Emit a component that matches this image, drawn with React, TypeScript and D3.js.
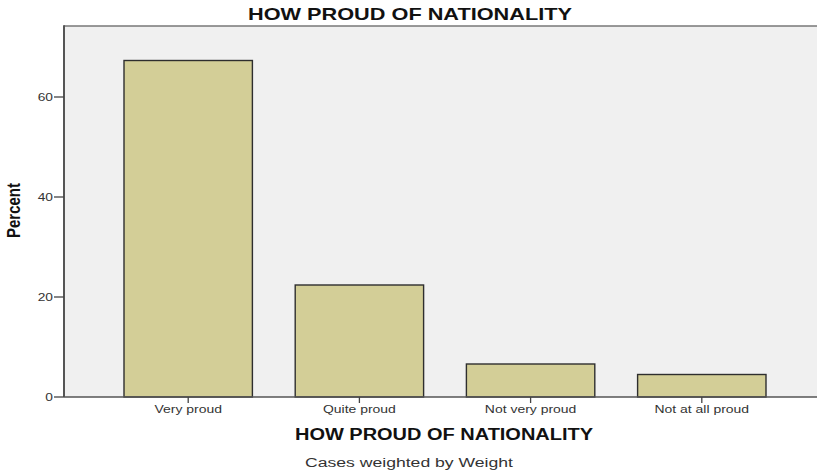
import React from "react";
import * as d3 from "d3";

const categories = ["Very proud", "Quite proud", "Not very proud", "Not at all proud"];
const percents = [67.3, 22.4, 6.6, 4.5];
const yTicks = [0, 20, 40, 60];
const title = "HOW PROUD OF NATIONALITY";
const xTitle = "HOW PROUD OF NATIONALITY";
const yTitle = "Percent";
const footnote = "Cases weighted by Weight";

const W = 817;
const H = 475;
const plot = { left: 64, right: 817, top: 26, bottom: 397 };
const FONT = "'Liberation Sans', Arial, sans-serif";

export default function App() {
  const y = d3.scaleLinear().domain([0, 74.2]).range([plot.bottom, plot.top]);
  const x = d3
    .scaleBand<string>()
    .domain(categories)
    .range([81.2, 808.8])
    .paddingInner(0.25)
    .paddingOuter(0.25);
  const bw = x.bandwidth();
  const tickColor = "#333";

  return (
    <svg
      width={W}
      height={H}
      style={{ position: "absolute", left: 0, top: 0, display: "block", background: "#fff" }}
    >
      <rect
        x={plot.left}
        y={plot.top}
        width={plot.right - plot.left}
        height={plot.bottom - plot.top}
        fill="#f0f0f0"
      />
      <line x1={plot.left} x2={plot.right} y1={plot.top} y2={plot.top} stroke="#777" strokeWidth={1.5} />
      {categories.map((c, i) => (
        <rect
          key={c}
          x={x(c)!}
          y={y(percents[i])}
          width={bw}
          height={y(0) - y(percents[i])}
          fill="#d3ce97"
          stroke="#2e2e2e"
          strokeWidth={1.4}
        />
      ))}
      <line x1={plot.left} x2={plot.left} y1={plot.top - 0.7} y2={plot.bottom} stroke="#555" strokeWidth={2} />
      <line x1={plot.left} x2={plot.right} y1={plot.bottom} y2={plot.bottom} stroke="#555" strokeWidth={1.6} />
      {yTicks.map((t) => (
        <g key={t}>
          <line x1={plot.left - 10} x2={plot.left} y1={y(t)} y2={y(t)} stroke="#444" strokeWidth={1.3} />
          <text
            x={plot.left - 11}
            y={y(t) + 4}
            textAnchor="end"
            fontFamily={FONT}
            fontSize={11}
            fill={tickColor}
            transform={`translate(${plot.left - 11},0) scale(1.25,1) translate(${-(plot.left - 11)},0)`}
          >
            {t}
          </text>
        </g>
      ))}
      {categories.map((c) => {
        const cx = x(c)! + bw / 2;
        const len = c.length * 7.3;
        return (
          <g key={c}>
            <line x1={cx} x2={cx} y1={plot.bottom} y2={plot.bottom + 6} stroke="#444" strokeWidth={1.3} />
            <text
              x={cx}
              y={413}
              textAnchor="middle"
              fontFamily={FONT}
              fontSize={11}
              fill={tickColor}
              transform={`translate(${cx},0) scale(1.27,1) translate(${-cx},0)`}
            >
              {c}
            </text>
          </g>
        );
      })}
      <text
        x={410}
        y={19.5}
        textAnchor="middle"
        fontFamily={FONT}
        fontWeight="bold"
        fontSize={16.5}
        fill="#111"
        textLength={324}
        lengthAdjust="spacingAndGlyphs"
      >
        {title}
      </text>
      <text
        x={444}
        y={440}
        textAnchor="middle"
        fontFamily={FONT}
        fontWeight="bold"
        fontSize={16}
        fill="#111"
        textLength={298}
        lengthAdjust="spacingAndGlyphs"
      >
        {xTitle}
      </text>
      <text
        x={409}
        y={467}
        textAnchor="middle"
        fontFamily={FONT}
        fontSize={12.5}
        fill="#333"
        textLength={208}
        lengthAdjust="spacingAndGlyphs"
      >
        {footnote}
      </text>
      <text
        transform="translate(20,210.5) scale(1.25,1) rotate(-90)"
        textAnchor="middle"
        fontFamily={FONT}
        fontWeight="bold"
        fontSize={14}
        fill="#111"
        textLength={55}
        lengthAdjust="spacingAndGlyphs"
      >
        {yTitle}
      </text>
    </svg>
  );
}
